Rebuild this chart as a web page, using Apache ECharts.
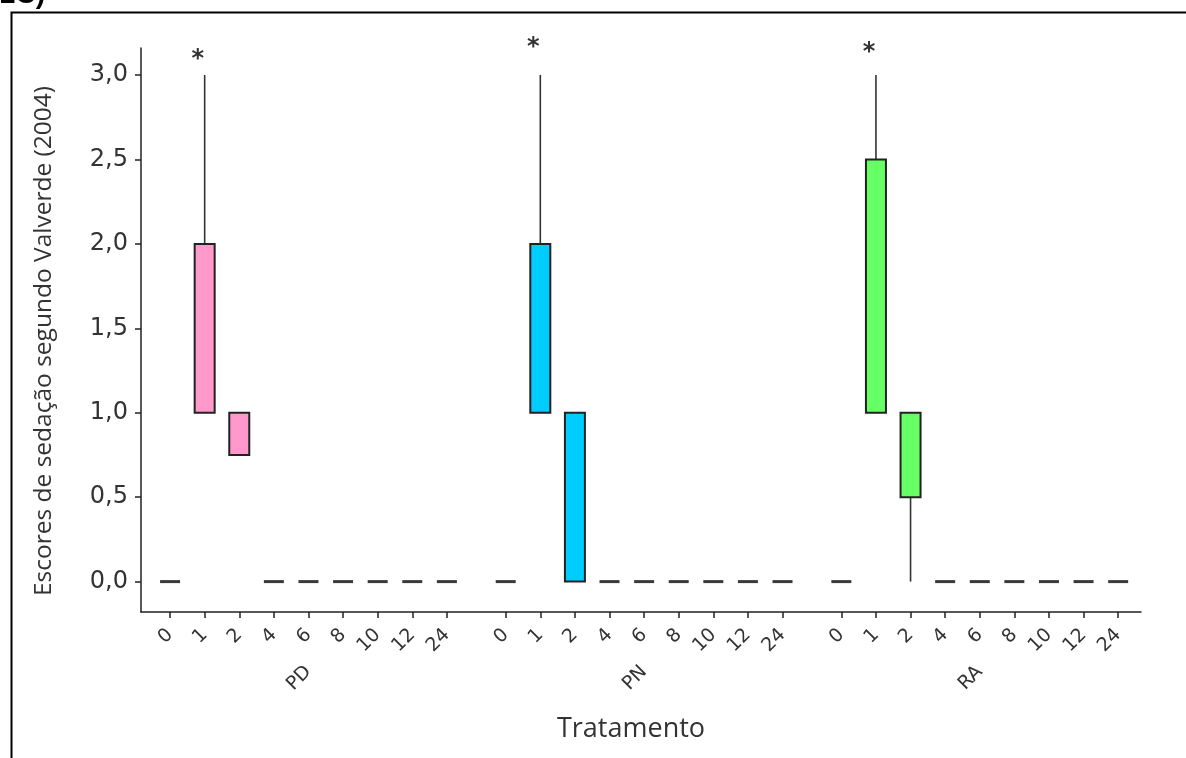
<!DOCTYPE html>
<html>
<head>
<meta charset="utf-8">
<script src="https://cdn.jsdelivr.net/npm/echarts@6/dist/echarts.min.js"></script>
<style>
html,body{margin:0;padding:0;background:#fff;}
#main{width:1186px;height:758px;}
</style>
</head>
<body>
<div id="main"></div>
<script>
// ---- data ----
const groups = ['PD', 'PN', 'RA'];
const times = ['0', '1', '2', '4', '6', '8', '10', '12', '24'];
const groupColors = ['#ff99cc', '#00ccff', '#66ff66'];
// box stats per time: [min, q1, median, q3, max]
const pdStats = [
  [0, 0, 0, 0, 0], [1, 1, 1, 2, 3], [0.75, 0.75, 1, 1, 1],
  [0, 0, 0, 0, 0], [0, 0, 0, 0, 0], [0, 0, 0, 0, 0],
  [0, 0, 0, 0, 0], [0, 0, 0, 0, 0], [0, 0, 0, 0, 0]
];
const pnStats = [
  [0, 0, 0, 0, 0], [1, 1, 1, 2, 3], [0, 0, 0, 1, 1],
  [0, 0, 0, 0, 0], [0, 0, 0, 0, 0], [0, 0, 0, 0, 0],
  [0, 0, 0, 0, 0], [0, 0, 0, 0, 0], [0, 0, 0, 0, 0]
];
const raStats = [
  [0, 0, 0, 0, 0], [1, 1, 1, 2.5, 3], [0, 0.5, 1, 1, 1],
  [0, 0, 0, 0, 0], [0, 0, 0, 0, 0], [0, 0, 0, 0, 0],
  [0, 0, 0, 0, 0], [0, 0, 0, 0, 0], [0, 0, 0, 0, 0]
];
// significance markers (time "1" of each group), y
const starTimeIndex = [1, 1, 1];
const starValues = [3.14, 3.21, 3.18];
const yTicks = [0, 0.5, 1, 1.5, 2, 2.5, 3];
const groupStride = 9.7; // spacing between groups on the x scale (in time-slot units)

// ---- build ----
const allStats = [pdStats, pnStats, raStats];
const boxData = [];
const boxGroup = [];
const xTickVals = [];
const xTickLabel = {};
allStats.forEach((stats, g) => {
  stats.forEach((s, t) => {
    const x = +(g * groupStride + t).toFixed(2);
    boxData.push([x].concat(s));
    boxGroup.push(g);
    xTickVals.push(x);
    xTickLabel[x] = times[t];
  });
});
const groupCenters = groups.map((_, g) => +(g * groupStride + 4).toFixed(2));
const groupLabelMap = {};
groupCenters.forEach((c, g) => groupLabelMap[c] = groups[g]);
const starData = groups.map((_, g) => [+(g * groupStride + starTimeIndex[g]).toFixed(2), starValues[g]]);

const chart = echarts.init(document.getElementById('main'), null, { renderer: 'canvas' });

function renderBox(params, api) {
  const x = api.value(0);
  const mn = api.value(1), q1 = api.value(2), md = api.value(3), q3 = api.value(4), mx = api.value(5);
  const g = boxGroup[params.dataIndex];
  const half = 10;
  const pMin = api.coord([x, mn]);
  const pQ1 = api.coord([x, q1]);
  const pMd = api.coord([x, md]);
  const pQ3 = api.coord([x, q3]);
  const pMax = api.coord([x, mx]);
  const children = [];
  const lineStyle = { stroke: '#333', lineWidth: 1.6 };
  if (q3 === q1) {
    children.push({
      type: 'line',
      shape: { x1: pMd[0] - half, y1: pMd[1], x2: pMd[0] + half, y2: pMd[1] },
      style: { stroke: '#3a3a3a', lineWidth: 3 }
    });
    return { type: 'group', children };
  }
  if (mx > q3) {
    children.push({ type: 'line', shape: { x1: pQ3[0], y1: pQ3[1], x2: pMax[0], y2: pMax[1] }, style: lineStyle });
  }
  if (mn < q1) {
    children.push({ type: 'line', shape: { x1: pQ1[0], y1: pQ1[1], x2: pMin[0], y2: pMin[1] }, style: lineStyle });
  }
  children.push({
    type: 'rect',
    shape: { x: pQ3[0] - half, y: pQ3[1], width: half * 2, height: pQ1[1] - pQ3[1] },
    style: { fill: groupColors[g], stroke: '#222', lineWidth: 2 }
  });
  if (md > q1 && md < q3) {
    children.push({ type: 'line', shape: { x1: pMd[0] - half, y1: pMd[1], x2: pMd[0] + half, y2: pMd[1] }, style: { stroke: '#222', lineWidth: 2 } });
  }
  return { type: 'group', children };
}

function renderStar(params, api) {
  const p = api.coord([api.value(0), api.value(1)]);
  return {
    type: 'text',
    x: p[0] - 7, y: p[1] + 8,
    style: {
      text: '*', align: 'center', verticalAlign: 'middle',
      font: 'bold 24px "DejaVu Sans", sans-serif', fill: '#333'
    }
  };
}

const xMin = -0.84, xMax = 28.06;

const option = {
  backgroundColor: '#fff',
  animation: false,
  graphic: [
    {
      type: 'rect', left: 9, top: 10, silent: true,
      shape: { width: 1200, height: 800 },
      style: { fill: 'none', stroke: '#000', lineWidth: 2 }
    },
    {
      type: 'text', left: 0, top: -19, silent: true,
      style: { text: '2C)', font: 'bold 28px "Liberation Sans", Arial, sans-serif', fill: '#000' }
    }
  ],
  grid: { left: 141, right: 45, top: 48, bottom: 146, containLabel: false },
  xAxis: [
    {
      type: 'value', min: xMin, max: xMax,
      name: 'Tratamento', nameLocation: 'middle', nameGap: 104,
      nameTextStyle: { fontFamily: 'Open Sans', fontSize: 27, color: '#333', padding: [0, 20, 0, 0] },
      axisLine: { show: true, onZero: false, lineStyle: { color: '#222', width: 1.5 } },
      axisTick: { show: true, customValues: xTickVals, length: 6, lineStyle: { color: '#222', width: 1.5 } },
      axisLabel: {
        customValues: xTickVals, rotate: 45, margin: 20,
        fontFamily: 'DejaVu Sans', fontSize: 19, color: '#333',
        formatter: v => xTickLabel[+v.toFixed(2)] || ''
      },
      splitLine: { show: false }
    },
    {
      type: 'value', min: xMin, max: xMax, position: 'bottom',
      axisLine: { show: false, onZero: false }, axisTick: { show: false },
      axisLabel: {
        customValues: groupCenters, rotate: 45, margin: 57,
        fontFamily: 'DejaVu Sans', fontSize: 19, color: '#333',
        formatter: v => groupLabelMap[+v.toFixed(2)] || ''
      },
      splitLine: { show: false }
    }
  ],
  yAxis: {
    type: 'value', min: -0.18, max: 3.16,
    name: 'Escores de sedação segundo Valverde (2004)', nameLocation: 'middle', nameGap: 84,
    nameTextStyle: { fontFamily: 'Open Sans', fontSize: 24.5, color: '#333', padding: [0, 22, 0, 0] },
    axisLine: { show: true, onZero: false, lineStyle: { color: '#222', width: 1.5 } },
    axisTick: { show: true, customValues: yTicks, length: 6, lineStyle: { color: '#222', width: 1.5 } },
    axisLabel: {
      customValues: yTicks, margin: 13,
      fontFamily: 'DejaVu Sans', fontSize: 24, color: '#333',
      formatter: v => v.toFixed(1).replace('.', ',')
    },
    splitLine: { show: false }
  },
  series: [
    {
      type: 'custom', xAxisIndex: 0, renderItem: renderBox,
      encode: { x: 0, y: [1, 2, 3, 4, 5] },
      data: boxData
    },
    {
      type: 'custom', xAxisIndex: 0, renderItem: renderStar,
      encode: { x: 0, y: 1 },
      data: starData
    }
  ]
};
chart.setOption(option);
</script>
</body>
</html>
